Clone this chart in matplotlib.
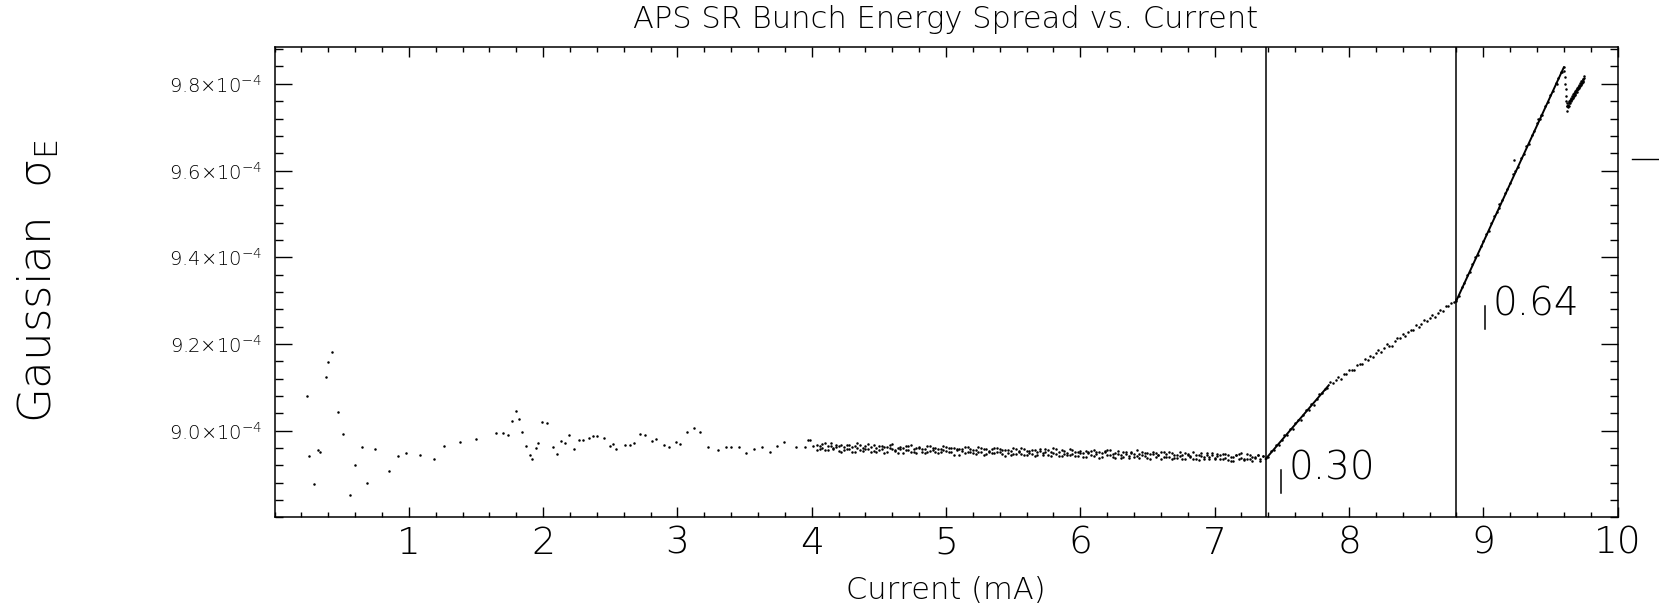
import numpy as np
import matplotlib
matplotlib.use('Agg')
import matplotlib.pyplot as plt
from matplotlib.ticker import MultipleLocator, FixedLocator, FuncFormatter
from matplotlib.lines import Line2D

# sigma_E values are in units of 1e-4
# sparse low-current points
low_x = [0.24, 0.26, 0.29, 0.32, 0.34, 0.38, 0.40, 0.43, 0.47, 0.51,
         0.56, 0.60, 0.65, 0.69, 0.75, 0.85, 0.92, 0.98, 1.08, 1.19,
         1.26, 1.38, 1.50, 1.65, 1.70, 1.74, 1.77, 1.80, 1.82, 1.84,
         1.87, 1.90, 1.92, 1.95, 1.96, 1.99, 2.03, 2.07, 2.10, 2.13,
         2.16, 2.19, 2.23, 2.27, 2.30, 2.34, 2.37, 2.40, 2.45, 2.50,
         2.52, 2.54, 2.61, 2.65, 2.68, 2.72, 2.76, 2.81, 2.84, 2.90,
         2.94, 2.99, 3.02, 3.07, 3.12, 3.17, 3.23, 3.30, 3.36, 3.40,
         3.46, 3.51, 3.57, 3.63, 3.69, 3.74, 3.79, 3.88, 3.95, 3.97,
         3.99, 4.01]
low_y = [9.081, 8.942, 8.878, 8.956, 8.952, 9.123, 9.158, 9.181, 9.044, 8.992,
         8.852, 8.921, 8.962, 8.879, 8.957, 8.907, 8.942, 8.949, 8.944, 8.935,
         8.966, 8.973, 8.981, 8.995, 8.995, 8.990, 9.023, 9.046, 9.028, 8.998,
         8.965, 8.945, 8.935, 8.960, 8.971, 9.020, 9.018, 8.963, 8.947, 8.977,
         8.972, 8.990, 8.958, 8.978, 8.979, 8.983, 8.987, 8.987, 8.983, 8.964,
         8.970, 8.958, 8.968, 8.968, 8.971, 8.992, 8.991, 8.977, 8.981, 8.968,
         8.962, 8.973, 8.970, 8.998, 9.007, 8.998, 8.963, 8.955, 8.963, 8.963,
         8.963, 8.948, 8.959, 8.962, 8.952, 8.964, 8.973, 8.963, 8.963, 8.978,
         8.978, 8.964]

# dense band 4 - 7.4 mA, two readings per column
band_x = [4.04, 4.06, 4.08, 4.10, 4.12, 4.14, 4.16, 4.18, 4.20, 4.22,
          4.24, 4.26, 4.28, 4.30, 4.32, 4.34, 4.36, 4.38, 4.40, 4.42,
          4.44, 4.46, 4.48, 4.50, 4.52, 4.54, 4.56, 4.58, 4.60, 4.62,
          4.64, 4.66, 4.68, 4.70, 4.72, 4.74, 4.76, 4.78, 4.80, 4.82,
          4.84, 4.86, 4.88, 4.90, 4.92, 4.94, 4.96, 4.98, 5.00, 5.02,
          5.04, 5.06, 5.08, 5.10, 5.12, 5.14, 5.16, 5.18, 5.20, 5.22,
          5.24, 5.26, 5.28, 5.30, 5.32, 5.34, 5.36, 5.38, 5.40, 5.42,
          5.44, 5.46, 5.48, 5.50, 5.52, 5.54, 5.56, 5.58, 5.60, 5.62,
          5.64, 5.66, 5.68, 5.70, 5.72, 5.74, 5.76, 5.78, 5.80, 5.82,
          5.84, 5.86, 5.88, 5.90, 5.92, 5.94, 5.96, 5.98, 6.00, 6.02,
          6.04, 6.06, 6.08, 6.10, 6.12, 6.14, 6.16, 6.18, 6.20, 6.22,
          6.24, 6.26, 6.28, 6.30, 6.32, 6.34, 6.36, 6.38, 6.40, 6.42,
          6.44, 6.46, 6.48, 6.50, 6.52, 6.54, 6.56, 6.58, 6.60, 6.62,
          6.64, 6.66, 6.68, 6.70, 6.72, 6.74, 6.76, 6.78, 6.80, 6.82,
          6.84, 6.86, 6.88, 6.90, 6.92, 6.94, 6.96, 6.98, 7.00, 7.02,
          7.04, 7.06, 7.08, 7.10, 7.12, 7.14, 7.16, 7.18, 7.20, 7.22,
          7.24, 7.26, 7.28, 7.30, 7.32, 7.34, 7.36]
band_y_a = [8.967, 8.959, 8.970, 8.956, 8.964, 8.972, 8.958, 8.963, 8.954, 8.968,
            8.963, 8.958, 8.967, 8.951, 8.964, 8.972, 8.955, 8.960, 8.966, 8.957,
            8.952, 8.968, 8.961, 8.955, 8.964, 8.949, 8.962, 8.967, 8.958, 8.953,
            8.961, 8.958, 8.949, 8.964, 8.955, 8.968, 8.952, 8.960, 8.963, 8.950,
            8.958, 8.952, 8.965, 8.955, 8.961, 8.948, 8.959, 8.956, 8.963, 8.951,
            8.951, 8.960, 8.955, 8.945, 8.958, 8.962, 8.952, 8.959, 8.948, 8.956,
            8.963, 8.950, 8.957, 8.946, 8.954, 8.959, 8.948, 8.961, 8.951, 8.956,
            8.942, 8.956, 8.953, 8.947, 8.958, 8.950, 8.960, 8.945, 8.954, 8.948,
            8.956, 8.942, 8.951, 8.954, 8.948, 8.958, 8.945, 8.952, 8.961, 8.946,
            8.951, 8.941, 8.953, 8.948, 8.945, 8.955, 8.942, 8.952, 8.949, 8.939,
            8.953, 8.949, 8.943, 8.955, 8.946, 8.952, 8.940, 8.950, 8.956, 8.945,
            8.940, 8.949, 8.946, 8.937, 8.951, 8.947, 8.942, 8.952, 8.939, 8.955,
            8.947, 8.943, 8.949, 8.937, 8.946, 8.952, 8.940, 8.945, 8.935, 8.950,
            8.946, 8.940, 8.949, 8.937, 8.945, 8.942, 8.934, 8.948, 8.944, 8.939,
            8.950, 8.935, 8.945, 8.942, 8.936, 8.948, 8.939, 8.944, 8.934, 8.946,
            8.935, 8.946, 8.937, 8.944, 8.931, 8.940, 8.945, 8.936, 8.948, 8.933,
            8.946, 8.934, 8.940, 8.937, 8.944, 8.935, 8.942]
band_y_b = [8.956, 8.966, 8.961, 8.971, 8.955, 8.965, 8.960, 8.968, 8.966, 8.952,
            8.955, 8.968, 8.957, 8.962, 8.952, 8.961, 8.967, 8.954, 8.958, 8.969,
            8.962, 8.954, 8.950, 8.965, 8.958, 8.963, 8.952, 8.961, 8.970, 8.955,
            8.949, 8.963, 8.960, 8.955, 8.966, 8.951, 8.958, 8.948, 8.961, 8.959,
            8.949, 8.966, 8.953, 8.961, 8.950, 8.957, 8.952, 8.964, 8.954, 8.960,
            8.961, 8.945, 8.959, 8.957, 8.953, 8.948, 8.963, 8.950, 8.956, 8.946,
            8.951, 8.960, 8.944, 8.957, 8.950, 8.948, 8.961, 8.952, 8.959, 8.947,
            8.955, 8.949, 8.944, 8.960, 8.946, 8.954, 8.947, 8.957, 8.943, 8.953,
            8.947, 8.955, 8.944, 8.959, 8.943, 8.951, 8.956, 8.941, 8.948, 8.957,
            8.942, 8.956, 8.947, 8.943, 8.958, 8.946, 8.951, 8.941, 8.953, 8.949,
            8.939, 8.950, 8.954, 8.942, 8.951, 8.938, 8.949, 8.953, 8.944, 8.955,
            8.946, 8.938, 8.954, 8.943, 8.939, 8.950, 8.937, 8.948, 8.946, 8.941,
            8.937, 8.950, 8.941, 8.948, 8.935, 8.946, 8.949, 8.943, 8.951, 8.939,
            8.940, 8.950, 8.936, 8.945, 8.938, 8.951, 8.944, 8.935, 8.947, 8.941,
            8.935, 8.944, 8.932, 8.948, 8.939, 8.945, 8.936, 8.949, 8.938, 8.942,
            8.944, 8.936, 8.947, 8.933, 8.940, 8.930, 8.943, 8.946, 8.937, 8.934,
            8.934, 8.944, 8.930, 8.940, 8.943, 8.931, 8.941]

# first rise 7.38 - 8.80 mA
rise_x = [7.38, 7.40, 7.42, 7.44, 7.46, 7.48, 7.50, 7.52, 7.54, 7.56,
          7.58, 7.60, 7.62, 7.64, 7.66, 7.68, 7.70, 7.72, 7.74, 7.76,
          7.78, 7.80, 7.82, 7.84, 7.86, 7.88, 7.90, 7.92, 7.94, 7.96,
          7.98, 8.00, 8.02, 8.04, 8.06, 8.08, 8.10, 8.12, 8.14, 8.16,
          8.18, 8.20, 8.22, 8.24, 8.26, 8.28, 8.30, 8.32, 8.34, 8.36,
          8.38, 8.40, 8.42, 8.44, 8.46, 8.48, 8.50, 8.52, 8.54, 8.56,
          8.58, 8.60, 8.62, 8.64, 8.66, 8.68, 8.70, 8.72, 8.74, 8.76,
          8.78, 8.80]
rise_y = [8.937, 8.939, 8.953, 8.956, 8.967, 8.967, 8.979, 8.991, 8.991, 9.003,
          9.004, 9.019, 9.024, 9.025, 9.037, 9.049, 9.049, 9.061, 9.060, 9.074,
          9.084, 9.086, 9.097, 9.098, 9.112, 9.109, 9.116, 9.125, 9.119, 9.131,
          9.130, 9.141, 9.141, 9.139, 9.151, 9.154, 9.153, 9.166, 9.163, 9.172,
          9.169, 9.179, 9.186, 9.182, 9.190, 9.199, 9.195, 9.196, 9.208, 9.213,
          9.213, 9.223, 9.218, 9.228, 9.233, 9.232, 9.244, 9.239, 9.247, 9.255,
          9.252, 9.261, 9.268, 9.263, 9.272, 9.278, 9.277, 9.287, 9.287, 9.294,
          9.297, 9.300]

# steep rise 8.80 - 9.60 mA
steep_x = [8.80, 8.82, 8.84, 8.86, 8.88, 8.90, 8.92, 8.94, 8.96, 8.98,
           9.00, 9.02, 9.04, 9.06, 9.08, 9.10, 9.12, 9.14, 9.16, 9.18,
           9.20, 9.22, 9.24, 9.26, 9.28, 9.30, 9.32, 9.34, 9.36, 9.38,
           9.40, 9.42, 9.44, 9.46, 9.48, 9.50, 9.52, 9.54, 9.56, 9.58,
           9.60, 9.23, 9.41, 9.43, 9.55, 9.59, 9.12]
steep_y = [9.303, 9.311, 9.331, 9.341, 9.359, 9.366, 9.384, 9.400, 9.406, 9.425,
           9.437, 9.453, 9.460, 9.478, 9.495, 9.504, 9.513, 9.533, 9.548, 9.557,
           9.572, 9.591, 9.598, 9.608, 9.628, 9.639, 9.656, 9.661, 9.681, 9.691,
           9.709, 9.720, 9.728, 9.750, 9.759, 9.775, 9.783, 9.803, 9.814, 9.827,
           9.838, 9.625, 9.718, 9.728, 9.800, 9.828, 9.522]

# drop and last cluster above 9.6 mA
tail_x = [9.605, 9.610, 9.612, 9.615, 9.617, 9.620, 9.622, 9.624,
          9.625, 9.625, 9.630, 9.630, 9.635, 9.635, 9.640, 9.640, 9.645, 9.645,
          9.650, 9.650, 9.655, 9.655, 9.660, 9.660, 9.665, 9.665, 9.670, 9.670,
          9.675, 9.675, 9.680, 9.680, 9.685, 9.685, 9.690, 9.690, 9.695, 9.695,
          9.700, 9.700, 9.705, 9.705, 9.710, 9.710, 9.715, 9.715, 9.720, 9.720,
          9.725, 9.725, 9.730, 9.730, 9.735, 9.735, 9.740, 9.740, 9.745, 9.745,
          9.750, 9.750]
tail_y = [9.830, 9.815, 9.800, 9.787, 9.772, 9.760, 9.748, 9.738,
          9.748, 9.755, 9.752, 9.746, 9.757, 9.750, 9.756, 9.761, 9.763, 9.755,
          9.760, 9.766, 9.768, 9.762, 9.765, 9.771, 9.773, 9.767, 9.770, 9.776,
          9.778, 9.772, 9.775, 9.781, 9.783, 9.777, 9.780, 9.786, 9.788, 9.782,
          9.785, 9.791, 9.792, 9.787, 9.790, 9.796, 9.797, 9.792, 9.795, 9.801,
          9.802, 9.797, 9.800, 9.806, 9.807, 9.802, 9.805, 9.811, 9.812, 9.807,
          9.814, 9.818]

# fitted segments and threshold currents
fit1_x = [7.38, 7.85]
fit1_y = [8.935, 9.105]
fit2_x = [8.80, 9.60]
fit2_y = [9.300, 9.838]
thresholds = [7.38, 8.80]
slope_labels = ['0.30', '0.64']
slope_x = [7.55, 9.067]
slope_y = [8.912, 9.290]

font = 'DejaVu Sans'
plt.rcParams['font.family'] = [font]

fig = plt.figure(figsize=(16.59, 6.13), dpi=100)
ax = fig.add_axes([0.1655, 0.1558, 0.8095, 0.7676])

dot = dict(linestyle='none', marker='o', markersize=1.8, markeredgewidth=0, color='black')
ax.plot(low_x, low_y, **dot)
ax.plot(band_x, band_y_a, **dot)
ax.plot(band_x, band_y_b, **dot)
ax.plot(rise_x, rise_y, **dot)
ax.plot(steep_x, steep_y, **dot)
ax.plot(tail_x, tail_y, **dot)

ax.plot(fit1_x, fit1_y, color='black', linewidth=1.4)
ax.plot(fit2_x, fit2_y, color='black', linewidth=1.4)
for t in thresholds:
    ax.axvline(t, color='black', linewidth=1.1)

for lab, lx, ly in zip(slope_labels, slope_x, slope_y):
    ax.text(lx, ly, lab, fontsize=28, fontweight='ultralight', ha='left', va='center')
    ax.plot([lx - 0.055, lx - 0.055], [ly - 0.003, ly - 0.056], color='black', linewidth=1.1)

ax.set_xlim(0, 10)
ax.set_ylim(8.80, 9.885)

ax.xaxis.set_major_locator(FixedLocator([1, 2, 3, 4, 5, 6, 7, 8, 9, 10]))
ax.xaxis.set_minor_locator(MultipleLocator(0.2))
ax.yaxis.set_major_locator(FixedLocator([9.0, 9.2, 9.4, 9.6, 9.8]))
ax.yaxis.set_minor_locator(MultipleLocator(0.04))
ax.xaxis.set_major_formatter(FuncFormatter(lambda v, p: '%d' % round(v)))
ax.yaxis.set_major_formatter(FuncFormatter(lambda v, p: '%.1f×10$^{\\mathregular{-4}}$' % v))

ax.tick_params(which='both', direction='in', top=True, right=True, width=1.0, color='black')
ax.tick_params(axis='x', which='major', length=7.2, labelsize=27, pad=6)
ax.tick_params(axis='x', which='minor', length=3.6)
ax.tick_params(axis='y', which='major', length=12, labelsize=14, pad=9)
ax.tick_params(axis='y', which='minor', length=5.8)
for lbl in ax.get_xticklabels() + ax.get_yticklabels():
    lbl.set_fontweight('ultralight')
for s in ax.spines.values():
    s.set_linewidth(1.1)

fig.text(0.5702, 0.968, 'APS SR Bunch Energy Spread vs. Current', fontsize=22,
         fontweight='ultralight', ha='center', va='center')
fig.text(0.5702, 0.036, 'Current (mA)', fontsize=22, fontweight='ultralight',
         ha='center', va='center')
fig.text(0.023, 0.5416, 'Gaussian  σ$_{\\mathregular{E}}$', fontsize=32.5, fontweight='ultralight',
         rotation=90, ha='center', va='center')

fig.add_artist(Line2D([0.9836, 1.0], [0.7406, 0.7406], color='black', linewidth=1.0))

fig.savefig('out.png', dpi=100)
